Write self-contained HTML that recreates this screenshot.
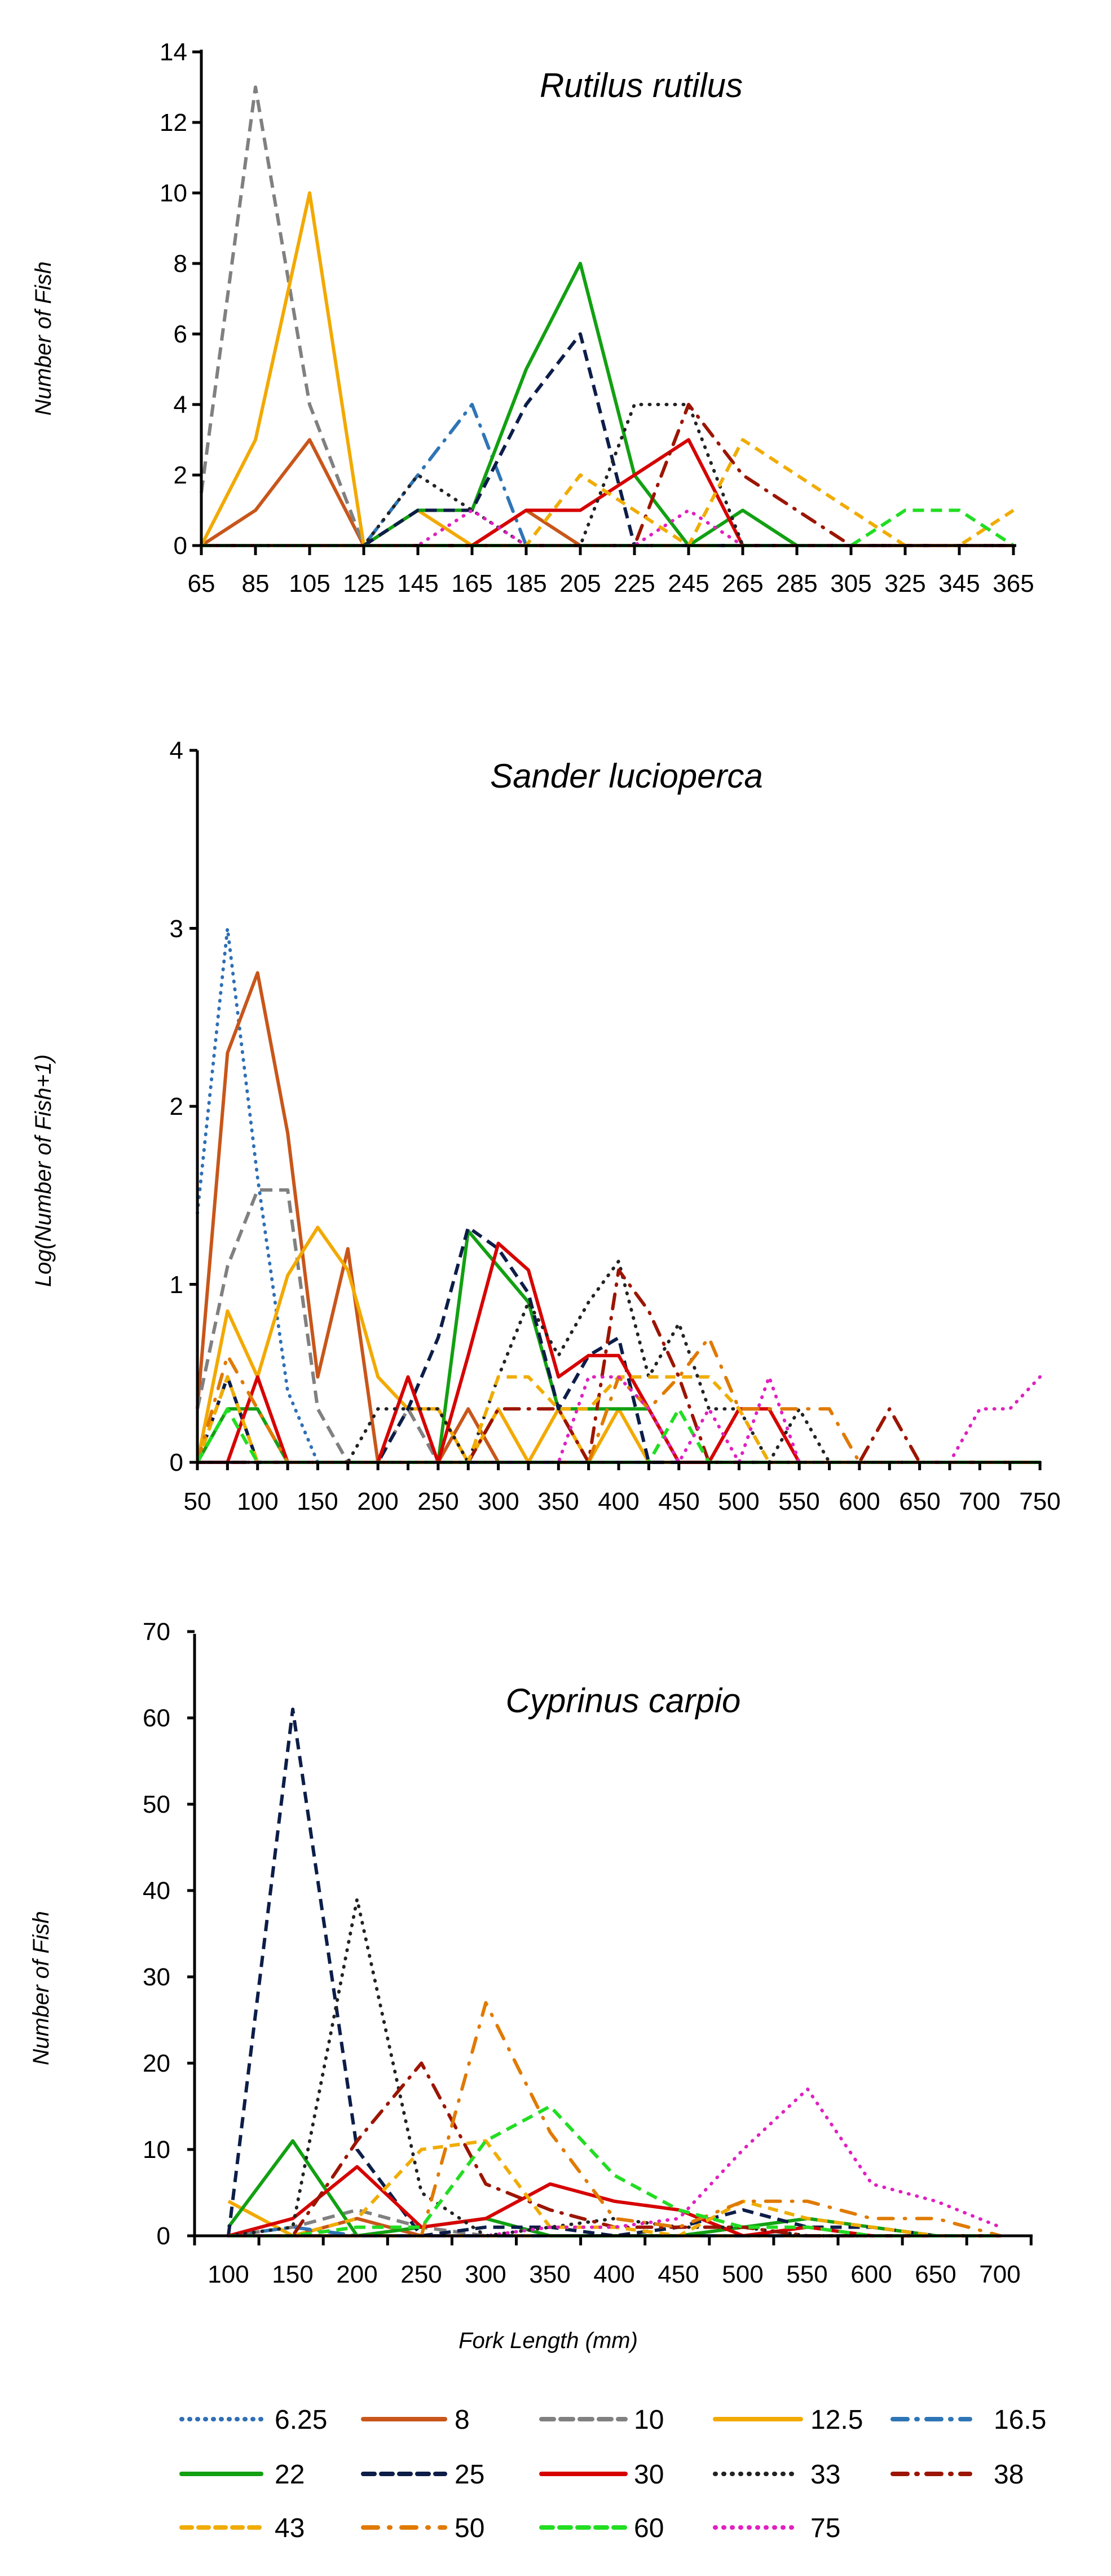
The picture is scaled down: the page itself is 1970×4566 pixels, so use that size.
<!DOCTYPE html>
<html><head><meta charset="utf-8">
<style>
html,body{margin:0;padding:0;background:#fff;}
svg{display:block;}
text{font-family:"Liberation Sans",sans-serif;fill:#000;}
.t{font-size:44px;}
.ti{font-size:60px;font-style:italic;}
.yl{font-size:40px;font-style:italic;}
.lg{font-size:48px;}
</style></head>
<body>
<svg id="s" width="1970" height="4566" viewBox="0 0 1970 4566" xmlns="http://www.w3.org/2000/svg">
<g id="lines" fill="none" stroke-linejoin="round"></g>
<g stroke="#000" stroke-width="5" fill="none">
<line x1="357" y1="88" x2="357" y2="969"/><line x1="355" y1="967" x2="1802" y2="967"/>
<line x1="350" y1="1330" x2="350" y2="2594"/><line x1="348" y1="2592" x2="1846" y2="2592"/>
<line x1="345" y1="2896" x2="345" y2="3965"/><line x1="343" y1="3963" x2="1831" y2="3963"/>
</g>
<g id="ticks" stroke="#000" stroke-width="5"></g>
<text class="ti" x="1137" y="172" text-anchor="middle">Rutilus rutilus</text>
<text class="yl" transform="translate(90,600) rotate(-90)" text-anchor="middle">Number of Fish</text>
<g class="t" text-anchor="end">
<text x="332" y="982">0</text><text x="332" y="857">2</text><text x="332" y="732">4</text><text x="332" y="607">6</text><text x="332" y="482">8</text><text x="332" y="357">10</text><text x="332" y="232">12</text><text x="332" y="107">14</text>
</g>
<g class="t" text-anchor="middle">
<text x="357" y="1049">65</text><text x="453" y="1049">85</text><text x="549" y="1049">105</text><text x="645" y="1049">125</text><text x="741" y="1049">145</text><text x="837" y="1049">165</text><text x="933" y="1049">185</text><text x="1029" y="1049">205</text><text x="1125" y="1049">225</text><text x="1221" y="1049">245</text><text x="1317" y="1049">265</text><text x="1413" y="1049">285</text><text x="1509" y="1049">305</text><text x="1605" y="1049">325</text><text x="1701" y="1049">345</text><text x="1797" y="1049">365</text>
</g>
<text class="ti" x="1111" y="1396" text-anchor="middle">Sander lucioperca</text>
<text class="yl" transform="translate(90,2075) rotate(-90)" text-anchor="middle">Log(Number of Fish+1)</text>
<g class="t" text-anchor="end">
<text x="325" y="2607">0</text><text x="325" y="2292">1</text><text x="325" y="1976">2</text><text x="325" y="1661">3</text><text x="325" y="1345">4</text>
</g>
<g class="t" text-anchor="middle">
<text x="350" y="2676">50</text><text x="457" y="2676">100</text><text x="563" y="2676">150</text><text x="670" y="2676">200</text><text x="777" y="2676">250</text><text x="884" y="2676">300</text><text x="990" y="2676">350</text><text x="1097" y="2676">400</text><text x="1204" y="2676">450</text><text x="1310" y="2676">500</text><text x="1417" y="2676">550</text><text x="1524" y="2676">600</text><text x="1631" y="2676">650</text><text x="1737" y="2676">700</text><text x="1844" y="2676">750</text>
</g>
<text class="ti" x="1105" y="3035" text-anchor="middle">Cyprinus carpio</text>
<text class="yl" transform="translate(86,3524) rotate(-90)" text-anchor="middle">Number of Fish</text>
<g class="t" text-anchor="end">
<text x="302" y="3978">0</text><text x="302" y="3825">10</text><text x="302" y="3672">20</text><text x="302" y="3519">30</text><text x="302" y="3366">40</text><text x="302" y="3213">50</text><text x="302" y="3060">60</text><text x="302" y="2907">70</text>
</g>
<g class="t" text-anchor="middle">
<text x="405" y="4046">100</text><text x="519" y="4046">150</text><text x="633" y="4046">200</text><text x="747" y="4046">250</text><text x="861" y="4046">300</text><text x="975" y="4046">350</text><text x="1089" y="4046">400</text><text x="1203" y="4046">450</text><text x="1317" y="4046">500</text><text x="1431" y="4046">550</text><text x="1545" y="4046">600</text><text x="1659" y="4046">650</text><text x="1773" y="4046">700</text>
</g>
<text class="yl" x="972" y="4162" text-anchor="middle">Fork Length (mm)</text>
<g id="leg" fill="none" stroke-linecap="round"></g>
<g class="lg">
<text x="487" y="4305">6.25</text><text x="806" y="4305">8</text><text x="1124" y="4305">10</text><text x="1437" y="4305">12.5</text><text x="1762" y="4305">16.5</text>
<text x="487" y="4402">22</text><text x="806" y="4402">25</text><text x="1124" y="4402">30</text><text x="1437" y="4402">33</text><text x="1762" y="4402">38</text>
<text x="487" y="4497">43</text><text x="806" y="4497">50</text><text x="1124" y="4497">60</text><text x="1437" y="4497">75</text>
</g>
</svg>
<script>
var NS="http://www.w3.org/2000/svg";
var S={
"6.25":{c:"#2e6fb5",d:"1 13",cap:"round"},
"8":{c:"#c8561a",d:""},
"10":{c:"#808080",d:"22 12"},
"12.5":{c:"#f2a900",d:""},
"16.5":{c:"#2e75b6",d:"26 16 2 16",cap:"round"},
"22":{c:"#12a012",d:""},
"25":{c:"#0c1d48",d:"20 12"},
"30":{c:"#d60000",d:""},
"33":{c:"#222222",d:"1 14",cap:"round"},
"38":{c:"#9c1500",d:"26 16 2 16",cap:"round"},
"43":{c:"#f0ac00",d:"18 12"},
"50":{c:"#e07a00",d:"26 20 2 20",cap:"round"},
"60":{c:"#22dd22",d:"20 12"},
"75":{c:"#e020c0",d:"1 14",cap:"round"}};
var g=document.getElementById("lines");
function pl(pts,k,w){var p=document.createElementNS(NS,"polyline");p.setAttribute("points",pts.map(function(a){return a[0].toFixed(1)+","+a[1].toFixed(1)}).join(" "));
var s=S[k];p.setAttribute("stroke",s.c);p.setAttribute("stroke-width",w||5);if(s.d)p.setAttribute("stroke-dasharray",s.d);if(s.cap)p.setAttribute("stroke-linecap",s.cap);return p;}
function chart(data,n,fx,fy,w){var order=["6.25","8","10","12.5","16.5","22","25","30","33","38","43","50","60","75"];
order.forEach(function(k){var arr=[];for(var i=0;i<n;i++)arr.push(0);var d=data[k]||{};for(var i in d)arr[i]=d[i];
g.appendChild(pl(arr.map(function(v,i){return [fx(i),fy(v)]}),k,w));});}
chart({
"10":{0:1.5,1:13,2:4,3:0},
"12.5":{1:3,2:10,3:0,4:1,5:0},
"8":{1:1,2:3,3:0,6:1,7:0},
"16.5":{4:2,5:4,6:0},
"22":{4:1,5:1,6:5,7:8,8:2,9:0,10:1,11:0},
"25":{4:1,5:1,6:4,7:6,8:0},
"30":{5:0,6:1,7:1,8:2,9:3,10:0},
"33":{4:2,5:1,6:0,7:0,8:4,9:4,10:0},
"38":{8:0,9:4,10:2,11:1,12:0},
"43":{6:0,7:2,8:1,9:0,10:3,11:2,12:1,13:0,14:0,15:1},
"60":{12:0,13:1,14:1,15:0},
"75":{4:0,5:1,6:0,8:0,9:1,10:0}
},16,function(i){return 357+96*i},function(v){return 967-62.5*v},6);
chart({
"6.25":{0:1.4,1:3.0,2:1.6,3:0.4,4:0},
"8":{0:0.3,1:2.3,2:2.75,3:1.85,4:0.48,5:1.2,6:0,9:0.3,10:0},
"10":{0:0.3,1:1.1,2:1.53,3:1.53,4:0.3,5:0,6:0,7:0.3,8:0},
"12.5":{1:0.85,2:0.48,3:1.05,4:1.32,5:1.08,6:0.48,7:0.3,8:0.3,9:0,10:0.3,11:0,12:0.3,13:0,14:0.3,15:0,16:0},
"22":{1:0.3,2:0.3,3:0,8:0,9:1.3,10:1.1,11:0.9,12:0.3,13:0.3,14:0.3,15:0.3,16:0},
"25":{1:0.48,2:0,6:0,7:0.3,8:0.7,9:1.32,10:1.2,11:0.95,12:0.3,13:0.6,14:0.7,15:0},
"30":{1:0,2:0.48,3:0,6:0,7:0.48,8:0,9:0.6,10:1.23,11:1.08,12:0.48,13:0.6,14:0.6,15:0.3,16:0,17:0,18:0.3,19:0.3,20:0},
"33":{5:0,6:0.3,7:0.3,8:0.3,9:0,10:0.48,11:0.9,12:0.6,13:0.9,14:1.13,15:0.48,16:0.78,17:0.3,18:0.3,19:0,20:0.3,21:0},
"38":{9:0,10:0.3,11:0.3,12:0.3,13:0,14:1.08,15:0.85,16:0.48,17:0,22:0,23:0.3,24:0},
"43":{1:0.48,2:0,9:0,10:0.48,11:0.48,12:0.3,13:0.3,14:0.48,15:0.48,16:0.48,17:0.48,18:0.3,19:0},
"50":{1:0.6,2:0.3,3:0,13:0,14:0.48,15:0.3,16:0.48,17:0.7,18:0.3,19:0.3,20:0.3,21:0.3,22:0},
"60":{1:0.3,2:0,15:0,16:0.3,17:0},
"75":{12:0,13:0.48,14:0.48,15:0.3,16:0,17:0.3,18:0,19:0.48,20:0,25:0,26:0.3,27:0.3,28:0.48}
},29,function(i){return 350+53.36*i},function(v){return 2592-315.5*v},6);
chart({
"25":{1:61,2:10,3:0,4:1,5:1,6:0,7:1,8:3,9:1,10:1,11:0},
"33":{1:1,2:39,3:5,4:0,5:1,6:2,7:1,8:1},
"38":{1:0,2:11,3:20,4:6,5:3,6:1,7:1,8:1},
"50":{3:0,4:27,5:12,6:2,7:1,8:4,9:4,10:2,11:2,12:0},
"43":{2:2,3:10,4:11,5:1,6:1,7:0,8:4,9:2,10:1,11:0},
"60":{2:1,3:1,4:11,5:15,6:7,7:3,8:1,9:1,10:0},
"22":{0:1,1:11,2:0,3:1,4:2,5:0,8:1,9:2,10:1,11:0},
"30":{1:2,2:8,3:1,4:2,5:6,6:4,7:3,8:0,9:1,10:0},
"75":{5:1,6:1,7:2,8:10,9:17,10:6,11:4,12:1},
"12.5":{0:4,1:0},
"10":{1:1,2:3,3:1,4:0},
"8":{1:0,2:2,3:0},
"16.5":{1:1,2:0}
},13,function(i){return 405+114.1*i},function(v){return 3963-15.3*v},6);
var t=document.getElementById("ticks");
function ln(x1,y1,x2,y2){var l=document.createElementNS(NS,"line");l.setAttribute("x1",x1);l.setAttribute("y1",y1);l.setAttribute("x2",x2);l.setAttribute("y2",y2);t.appendChild(l);}
for(var i=0;i<8;i++)ln(341,967-125*i,357,967-125*i);
for(var i=0;i<16;i++)ln(357+96*i,967,357+96*i,984);
for(var i=0;i<5;i++)ln(336,2592-315.5*i,350,2592-315.5*i);
for(var i=0;i<29;i++)ln(350+53.36*i,2592,350+53.36*i,2606);
for(var i=0;i<8;i++)ln(332,3963-153*i,345,3963-153*i);
for(var i=0;i<14;i++)ln(345+114.1*i,3963,345+114.1*i,3980);
var lg=document.getElementById("leg");
var L=[["6.25",322,463,4288],["8",644,789,4288],["10",960,1109,4288],["12.5",1268,1420,4288],["16.5",1583,1720,4288],
["22",322,463,4385],["25",644,789,4385],["30",960,1109,4385],["33",1268,1410,4385],["38",1583,1720,4385],
["43",322,463,4480],["50",644,789,4480],["60",960,1109,4480],["75",1268,1410,4480]];
L.forEach(function(a){var p=pl([[a[1],a[3]],[a[2],a[3]]],a[0],8);lg.appendChild(p);});
</script>
</body></html>
